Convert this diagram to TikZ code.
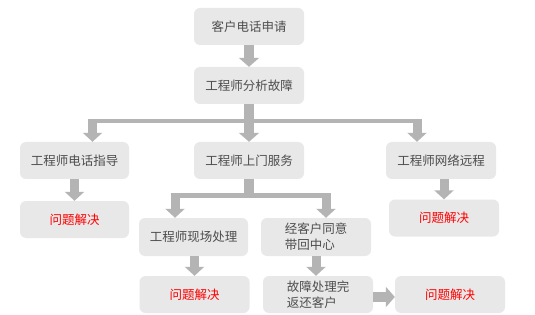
\documentclass[tikz,border=0pt]{standalone}
\usepackage{fontspec}
\newfontfamily\cjk{Noto Sans CJK SC}
\usetikzlibrary{arrows.meta}
\definecolor{boxgray}{HTML}{E8E8E8}
\definecolor{arrowgray}{HTML}{B4B4B4}
\definecolor{textgray}{HTML}{4D4D4D}
\tikzset{
  box/.style={fill=boxgray,rounded corners=6pt,minimum width=110pt,minimum height=37pt,inner sep=2pt,
    text=textgray,align=left,font=\cjk\fontsize{12.5}{16}\selectfont},
  solved/.style={box,text=red},
  bigarrow/.style={draw=arrowgray,line width=10pt,-{Triangle[width=20pt,length=9pt]}},
  smallarrow/.style={draw=arrowgray,line width=9pt,-{Triangle[width=19pt,length=9pt]}},
  branchbar/.style={draw=arrowgray,line width=4.5pt}
}
\begin{document}
\begin{tikzpicture}[x=1pt,y=-1pt]
\path[use as bounding box,fill=white] (0,0) rectangle (535,315);
\node[box] (apply) at (249,26.5) {客户电话申请};
\node[box] (analyse) at (249,85.5) {工程师分析故障};
\node[box,minimum width=109pt] (phone) at (74.5,160.5) {工程师电话指导};
\node[box] (visit) at (249,160.5) {工程师上门服务};
\node[box] (remote) at (441,160.5) {工程师网络远程};
\node[solved,minimum width=109pt] (solvedA) at (74.5,219.5) {问题解决};
\node[solved] (solvedB) at (444,218) {问题解决};
\node[box,minimum width=109pt,minimum height=38pt] (onsite) at (193.5,237) {工程师现场处理};
\node[box,minimum height=38pt] (takeback) at (316,237) {经客户同意\\带回中心};
\node[solved] (solvedC) at (194.5,294.5) {问题解决};
\node[box] (returned) at (318,294.5) {故障处理完\\返还客户};
\node[solved] (solvedD) at (450,294.5) {问题解决};

\draw[bigarrow] (apply) -- (analyse);
\draw[bigarrow] (analyse) -- (visit);
\coordinate (barL) at (92.5,121);
\coordinate (barR) at (417,121);
\draw[branchbar] ([xshift=-4.5pt]barL) -- ([xshift=4.5pt]barR);
\draw[smallarrow] ([yshift=-2pt]barL) -- (barL |- phone.north);
\draw[smallarrow] ([yshift=-2pt]barR) -- (barR |- remote.north);

\coordinate (subL) at (175,195.5);
\coordinate (subR) at (326,195.5);
\draw[bigarrow,-] (visit.south) -- (visit.south |- subL);
\draw[branchbar] ([xshift=-4.5pt]subL) -- ([xshift=4.5pt]subR);
\draw[smallarrow] ([yshift=-2pt]subL) -- (subL |- onsite.north);
\draw[smallarrow] ([yshift=-2pt]subR) -- (subR |- takeback.north);

\draw[smallarrow] (phone) -- (solvedA);
\draw[smallarrow] (solvedB.north |- remote.south) -- (solvedB.north);
\draw[smallarrow] (solvedC.north |- onsite.south) -- (solvedC.north);
\draw[smallarrow] (takeback) -- (takeback |- returned.north);
\draw[bigarrow] (returned.east |- 0,297) -- (solvedD.west |- 0,297);
\end{tikzpicture}
\end{document}
